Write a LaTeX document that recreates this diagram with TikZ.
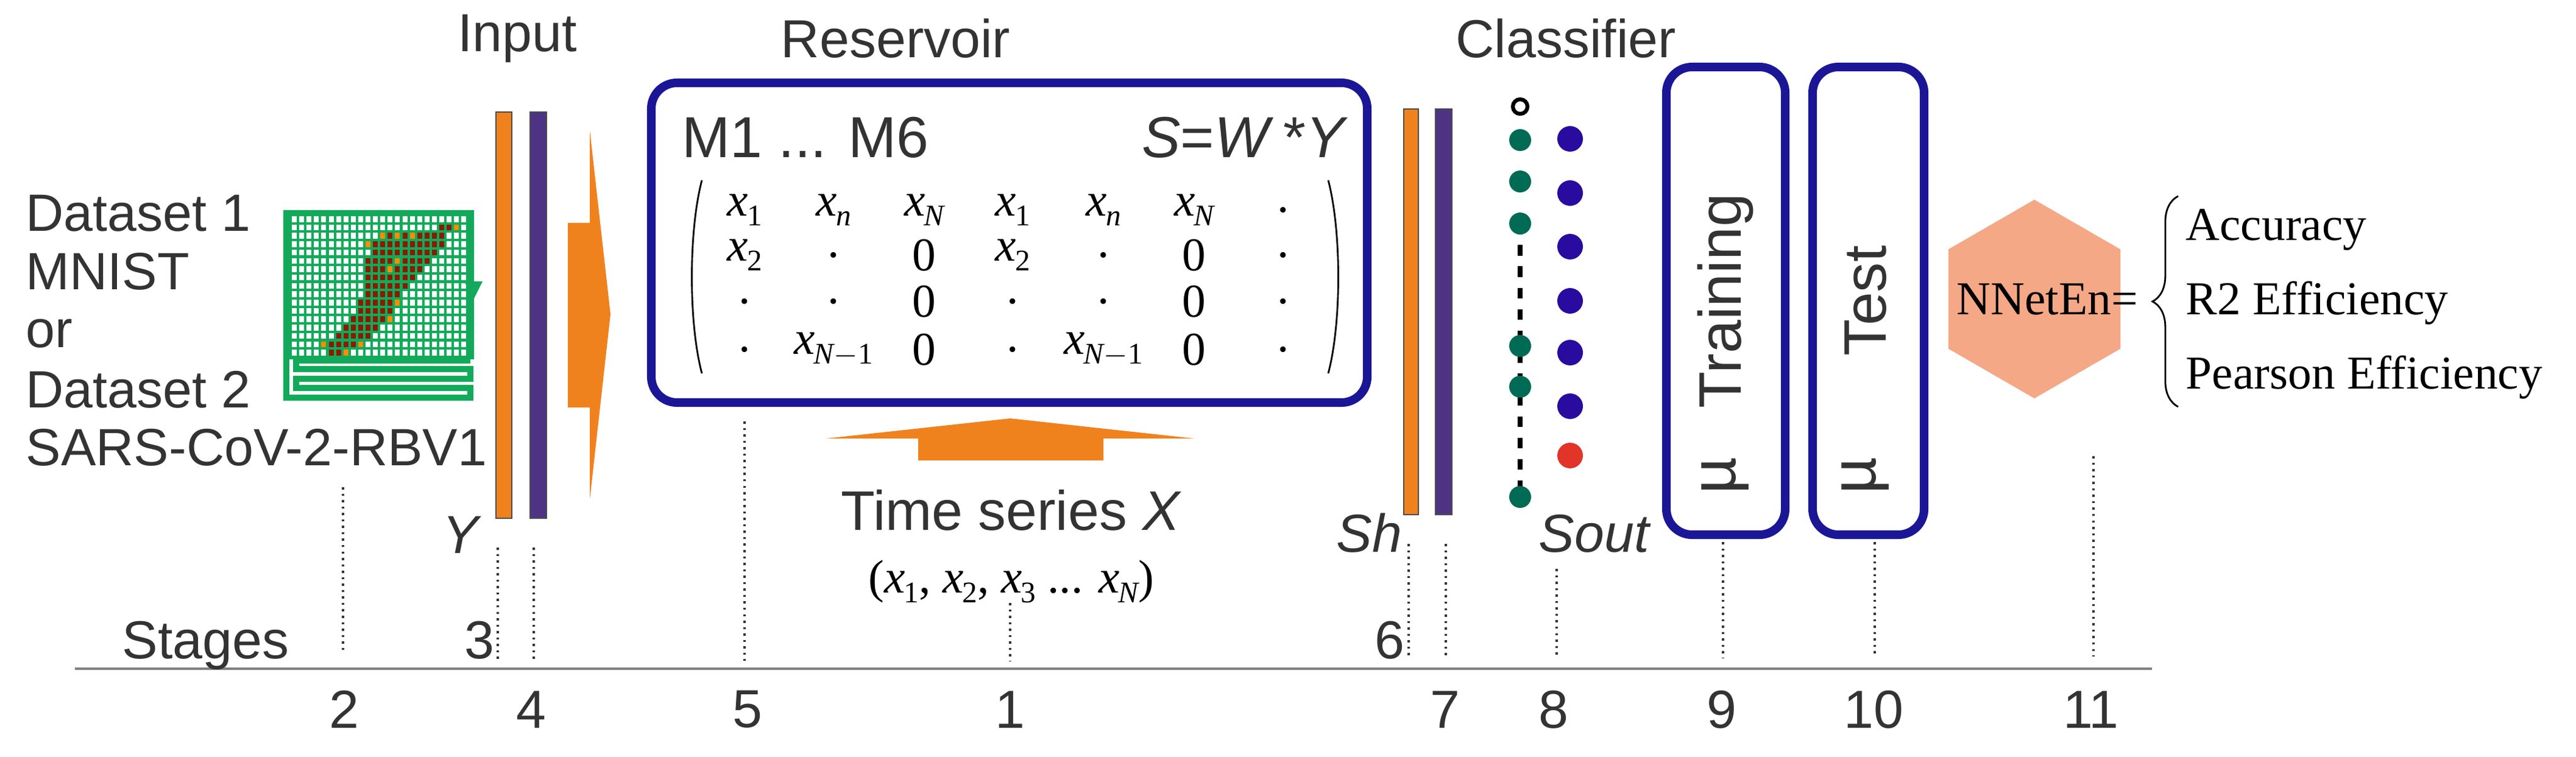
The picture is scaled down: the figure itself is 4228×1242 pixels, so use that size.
\documentclass[tikz,border=0pt]{standalone}
\usepackage{fontspec}
\setmainfont{Liberation Sans}
\newfontfamily\tms{Liberation Serif}
\usetikzlibrary{shapes.geometric,decorations.pathreplacing}
\definecolor{txt}{HTML}{333333}
\definecolor{org}{HTML}{F0821E}
\definecolor{pur}{HTML}{4E3384}
\definecolor{bbox}{HTML}{1A1696}
\definecolor{gdot}{HTML}{006B54}
\definecolor{bdot}{HTML}{2A0BA0}
\definecolor{rdot}{HTML}{E03528}
\definecolor{grn}{HTML}{12AA5A}
\definecolor{dred}{HTML}{8B1A00}
\definecolor{salmon}{HTML}{F4A886}
\newcommand{\fs}[1]{\fontsize{#1}{#1}\selectfont}
\newcommand{\xe}[1]{{\tms\itshape x}\kern-0.5pt\raisebox{-0.45ex}{\fs{14}\tms #1}}
\begin{document}
\begin{tikzpicture}[x=0.01cm,y=-0.01cm,
  lbl/.style={text=txt,font=\fs{25},inner sep=0pt},
  mat/.style={text=black,font=\fs{22}\tms,inner sep=0pt},
  bar/.style={draw=black!70,line width=0.6pt},
  stg/.style={draw=txt,dotted,line width=1pt},
  bluebox/.style={draw=bbox,line width=4pt,rounded corners=12pt},
]
\useasboundingbox (0,0) rectangle (4228,1242);
% titles
\node[lbl] (tin) at (849,63) {Input};
\node[lbl] (tres) at (1470,63) {Reservoir};
\node[lbl] (tcls) at (2570,63) {Classifier};
% dataset text
\node[lbl,anchor=base west,font=\fs{24.5}] (d1) at (42,379) {Dataset 1};
\node[lbl,anchor=base west,font=\fs{24.5}] (d2) at (42,475) {MNIST};
\node[lbl,anchor=base west,font=\fs{24.5}] (d3) at (42,570) {or};
\node[lbl,anchor=base west,font=\fs{24.5}] (d4) at (42,669) {Dataset 2};
\node[lbl,anchor=base west,font=\fs{24.5}] (d5) at (42,764) {SARS-CoV-2-RBV1};
% MNIST picture
\fill[grn] (470,345) rectangle (778,590);
\foreach \r in {0,...,16}{\foreach \c in {0,...,23}{
  \fill[white] ({479+\c*12.1},{355+\r*13.7}) rectangle ({479+\c*12.1+8},{355+\r*13.7+9.5});}}
\foreach \r/\cs in {1/{20,21},2/{13,...,20},3/{11,...,20},4/{11,...,19},5/{10,11,12,13,15,16,17,18},6/{10,11,12,14,15,16,17},7/{10,...,16},8/{10,...,15},9/{10,...,14},10/{9,...,13},11/{9,...,13},12/{8,...,12},13/{7,...,11},14/{6,...,10},15/{5,...,8},16/{5,6}}{
  \foreach \c in \cs {\fill[dred] ({479+\c*12.1},{355+\r*13.7}) rectangle ({479+\c*12.1+8},{355+\r*13.7+9.5});}}
\foreach \r/\c in {1/22,2/12,2/14,2/16,5/14,6/13,3/10,10/14,12/13,15/9,16/7,15/4}{
  \fill[orange!90!yellow] ({479+\c*12.1},{355+\r*13.7}) rectangle ({479+\c*12.1+8},{355+\r*13.7+9.5});}
\draw[grn,line width=3pt] (470,345)--(470,653)--(772,653)--(772,637)--(486,637)--(486,622)--(772,622)--(772,606)--(486,606)--(486,592)--(772,592);
\fill[grn] (762,462)--(792,462)--(777,492)--cycle;
% input bars
\draw[bar,fill=org] (814,184) rectangle (840,851);
\draw[bar,fill=pur] (870,184) rectangle (897,851);
\node[lbl,font=\fs{25}\itshape] (Y) at (756,878) {Y};
% orange right arrow
\fill[org] (932,366)--(968,366)--(968,214)--(1002,516)--(968,820)--(968,669)--(932,669)--cycle;
% reservoir
\draw[bluebox] (1069,136) rectangle (2244,661);
\node[lbl,anchor=base west,font=\fs{27}] (m16) at (1119,258) {M1 ... M6};
\node[lbl,anchor=base east,font=\fs{27}] (swy) at (2213,258) {\textit{S}=\textit{W}\,*\textit{Y}};
\draw[black,line width=0.8pt] (1152,296) .. controls (1130,380) and (1130,530) .. (1152,613);
\draw[black,line width=0.8pt] (2180,296) .. controls (2202,380) and (2202,530) .. (2180,613);
\foreach \x/\a/\b/\c/\d in {1222/\xe{1}/\xe{2}/./.,1368/\xe{\itshape n}/././{},1517/\xe{\itshape N}/0/0/0,1662/\xe{1}/\xe{2}/./.,1811/\xe{\itshape n}/././{},1960/\xe{\itshape N}/0/0/0,2106/./././.}{
  \node[mat] at (\x,345) {\a};
  \node[mat] at (\x,419) {\b};
  \node[mat] at (\x,495) {\c};
  \node[mat] at (\x,574) {\d};}
\node[mat] at (1368,574) {\xe{\itshape N\upshape$-$1}};
\node[mat] at (1811,574) {\xe{\itshape N\upshape$-$1}};
% up arrow
\fill[org] (1507,756)--(1507,720)--(1356,720)--(1658,687)--(1960,720)--(1811,720)--(1811,756)--cycle;
\node[lbl,anchor=base,font=\fs{26}] (ts) at (1660,870) {Time series \textit{X}};
\node[lbl,font=\fs{22}\tms,text=black] (tsx) at (1660,955) {(\xe{1}, \xe{2}, \xe{3} ... \xe{\itshape N})};
% classifier bars
\draw[bar,fill=org] (2304,179) rectangle (2328,845);
\draw[bar,fill=pur] (2356,179) rectangle (2383,845);
\node[lbl,anchor=base east,font=\fs{25}\itshape] (sh) at (2302,906) {Sh};
\node[lbl,anchor=base west,font=\fs{25}\itshape] (sout) at (2525,906) {Sout};
% neurons
\draw[black,line width=1.8pt] (2495,175) circle (12);
\draw[black,line width=2.5pt,dash pattern=on 5pt off 5pt] (2495,367)--(2495,816);
\foreach \y in {230,298,367,568,635,816}{\fill[gdot] (2495,\y) circle (18);}
\foreach \y in {228,317,405,494,579,667}{\fill[bdot] (2577,\y) circle (21);}
\fill[rdot] (2577,748) circle (21);
% training test
\draw[bluebox] (2735,110) rectangle (2930,878);
\draw[bluebox] (2975,110) rectangle (3158,878);
\node[lbl,rotate=90,font=\fs{28}] (tr) at (2832,494) {Training};
\node[lbl,rotate=90,font=\fs{28}] (te) at (3062,494) {Test};
\node[lbl,rotate=90,font=\fs{30}] (mu1) at (2832,781) {µ};
\node[lbl,rotate=90,font=\fs{30}] (mu2) at (3062,781) {µ};
% hexagon
\node[regular polygon,regular polygon sides=6,shape border rotate=30,fill=salmon,minimum size=3.26cm,inner sep=0pt] (hex) at (3339,491) {};
\node[anchor=base west,inner sep=0pt,font=\fs{22}\tms] (nn) at (3211,516) {NNetEn=};
\draw[black,line width=0.8pt,decorate,decoration={brace,amplitude=12pt,mirror}] (3575,322)--(3575,668);
\node[anchor=base west,inner sep=0pt,font=\fs{22}\tms] (acc) at (3587,394) {Accuracy};
\node[anchor=base west,inner sep=0pt,font=\fs{22}\tms] (r2) at (3587,516) {R2 Efficiency};
\node[anchor=base west,inner sep=0pt,font=\fs{22}\tms] (pe) at (3587,638) {Pearson Efficiency};
% axis
\draw[gray,line width=1pt] (123,1098)--(3532,1098);
\node[lbl,anchor=base west] (stages) at (200,1081) {Stages};
\node[lbl,anchor=base east] (n3) at (812,1081) {3};
\node[lbl,anchor=base east] (n6) at (2306,1081) {6};
% stage dotted lines
\draw[stg] (563,800)--(563,1068);
\draw[stg] (817,899)--(817,1085);
\draw[stg] (876,899)--(876,1085);
\draw[stg] (1222,692)--(1222,1085);
\draw[stg] (1658,990)--(1658,1085);
\draw[stg] (2312,893)--(2312,1081);
\draw[stg] (2373,893)--(2373,1081);
\draw[stg] (2555,934)--(2555,1081);
\draw[stg] (2828,890)--(2828,1081);
\draw[stg] (3077,890)--(3077,1078);
\draw[stg] (3436,749)--(3436,1078);
% numbers
\foreach \x/\t in {565/2,872/4,1227/5,1658/1,2372/7,2550/8,2826/9,3075/10,3432/11}{
  \node[lbl] at (\x,1165) {\t};}
\end{tikzpicture}
\end{document}
